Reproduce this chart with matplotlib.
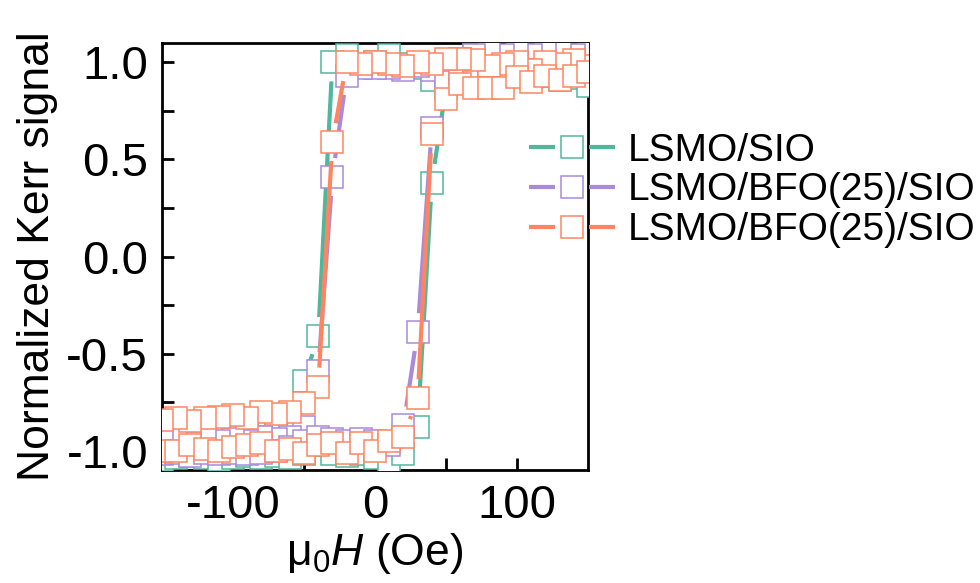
import numpy as np
import matplotlib
matplotlib.use("Agg")
import matplotlib.pyplot as plt
from matplotlib.lines import Line2D
from matplotlib.collections import LineCollection
from matplotlib.ticker import MultipleLocator, FixedLocator

plt.rcParams['font.family'] = ['Liberation Sans', 'DejaVu Sans']
plt.rcParams['mathtext.fontset'] = 'custom'
plt.rcParams['mathtext.rm'] = 'Liberation Sans'
plt.rcParams['mathtext.it'] = 'Liberation Sans:italic'
plt.rcParams['axes.unicode_minus'] = False
plt.rcParams['lines.scale_dashes'] = False

# ---------------- data ----------------
field = [-150, -140, -130, -120, -110, -100, -90, -80, -70, -60, -50, -40, -30, -20, -10,
         0, 10, 20, 30, 40, 50, 60, 70, 80, 90, 100, 110, 120, 130, 140, 150]

labels = ["LSMO/SIO", "LSMO/BFO(25)/SIO", "LSMO/BFO(25)/SIO"]
colors = ["#4FB89C", "#A98ADB", "#FF8561"]

# descending branch (sweep +150 -> -150), listed in order of increasing field
teal_down = [-0.95, -0.93, -0.94, -0.92, -0.93, -0.95, -0.92, -0.93, -0.91, -0.90, -0.64, -0.41,
             1.00, 1.04, 0.98, 1.00, 1.04, 0.99, 0.97, 0.91, 0.96, 1.00, 1.04, 1.02, 1.00, 1.03,
             1.04, 1.03, 1.05, 1.04, 1.03]
# ascending branch (sweep -150 -> +150)
teal_up = [-1.05, -1.04, -1.03, -1.04, -1.05, -1.04, -1.03, -1.04, -1.03, -1.04, -1.02, -0.97,
           -1.02, -1.03, -1.02, -1.04, -1.06, -1.02, -0.88, 0.38, 0.87, 0.92, 0.93, 0.95, 0.93,
           0.94, 0.92, 0.93, 0.91, 0.92, 0.88]

purple_down = [-0.95, -0.94, -0.96, -0.94, -0.95, -0.94, -0.95, -0.93, -0.94, -0.93, -0.88, -0.59,
               0.41, 0.93, 0.97, 0.97, 0.97, 0.96, 0.98, 0.96, 1.00, 1.02, 1.04, 1.05, 1.04, 1.05,
               1.04, 1.05, 1.05, 1.04, 1.05]
purple_up = [-1.02, -1.01, -1.03, -1.01, -1.02, -1.01, -1.02, -1.01, -1.00, -0.98, -0.95, -0.93,
             -0.94, -0.95, -0.94, -0.95, -0.97, -0.87, -0.39, 0.66, 0.90, 0.94, 0.95, 0.96, 0.95,
             0.97, 0.96, 0.95, 0.96, 0.97, 0.96]

orange_down = [-0.84, -0.83, -0.845, -0.83, -0.825, -0.815, -0.83, -0.80, -0.81, -0.80, -0.755, -0.67,
               0.59, 1.00, 0.99, 1.00, 0.99, 0.98, 1.00, 0.99, 1.02, 1.016, 1.01, 0.98, 0.99, 1.00,
               0.96, 1.00, 0.99, 1.01, 0.98]
orange_up = [-1.00, -1.00, -0.97, -0.99, -1.00, -0.98, -0.97, -0.96, -1.00, -0.99, -1.01, -0.97,
             -0.96, -1.01, -0.96, -1.00, -0.95, -0.93, -0.73, 0.63, 0.81, 0.89, 0.87, 0.87, 0.87,
             0.925, 0.90, 0.93, 0.91, 0.93, 0.95]

series = [(teal_down, teal_up), (purple_down, purple_up), (orange_down, orange_up)]

xticks = [-100, 0, 100]
xtick_labels = ["-100", "0", "100"]
yticks = [-1.0, -0.5, 0.0, 0.5, 1.0]
ytick_labels = ["-1.0", "-0.5", "0.0", "0.5", "1.0"]

# ---------------- figure ----------------
fig = plt.figure(figsize=(9.8, 5.83), dpi=100)
ax = fig.add_axes([162 / 980, 113 / 583, 426 / 980, 427 / 583])
ax.set_xlim(-150, 150)
ax.set_ylim(-1.1, 1.1)

MS = 15.2
MEW = 1.1
LW = 3.0
GAP_PX = 19.0

def trimmed(xs, ys):
    pts = ax.transData.transform(np.column_stack([xs, ys]))
    inv = ax.transData.inverted()
    segs = []
    for p0, p1 in zip(pts[:-1], pts[1:]):
        d = p1 - p0
        L = np.hypot(d[0], d[1])
        if L > 2 * GAP_PX:
            u = d / L
            segs.append(inv.transform(np.array([p0 + u * GAP_PX, p1 - u * GAP_PX])))
    return segs

fld = np.array(field, dtype=float)
for i, ((down, up), col) in enumerate(zip(series, colors)):
    xs = np.concatenate([fld[::-1], fld])
    ys = np.concatenate([np.array(down)[::-1], np.array(up)])
    z = 3 + i
    lc = LineCollection(trimmed(xs, ys), colors=col, linewidths=LW, capstyle='butt', zorder=z)
    ax.add_collection(lc)
    ax.plot(xs, ys, linestyle='none', marker='s', ms=MS, mfc='white', mec=col, mew=MEW,
            zorder=z + 0.5, clip_on=True)

# axes styling
for s in ax.spines.values():
    s.set_linewidth(2.0)
ax.xaxis.set_major_locator(FixedLocator(xticks))
ax.xaxis.set_minor_locator(FixedLocator([-50, 50]))
ax.yaxis.set_major_locator(FixedLocator(yticks))
ax.yaxis.set_minor_locator(FixedLocator([-0.75, -0.25, 0.25, 0.75]))
ax.set_xticklabels(xtick_labels)
ax.set_yticklabels(ytick_labels)
ax.tick_params(which='major', direction='in', length=8.6, width=2.0, top=False, right=False,
               labelsize=34, pad=10)
ax.tick_params(which='minor', direction='in', length=8.6, width=2.0, top=False, right=False)

ax.set_ylabel("Normalized Kerr signal", fontsize=32, labelpad=6)
ax.set_xlabel(r"$\mathrm{\mu_0}\mathit{H}$ (Oe)", fontsize=32, labelpad=2)

# legend with gapped line handles
handles = [Line2D([], [], color=c, lw=LW, linestyle=(0, (18.7, 24.5, 18.7, 200)),
                  marker='s', ms=MS, mfc='white', mec=c, mew=MEW) for c in colors]
leg = ax.legend(handles, labels, loc='center left', bbox_to_anchor=(529 / 980, (583 - 190.5) / 583),
                bbox_transform=fig.transFigure, frameon=False, fontsize=28, handlelength=2.21,
                handletextpad=0.33, labelspacing=0.1, borderpad=0, borderaxespad=0, numpoints=1)

fig.savefig("out.png", dpi=100)
